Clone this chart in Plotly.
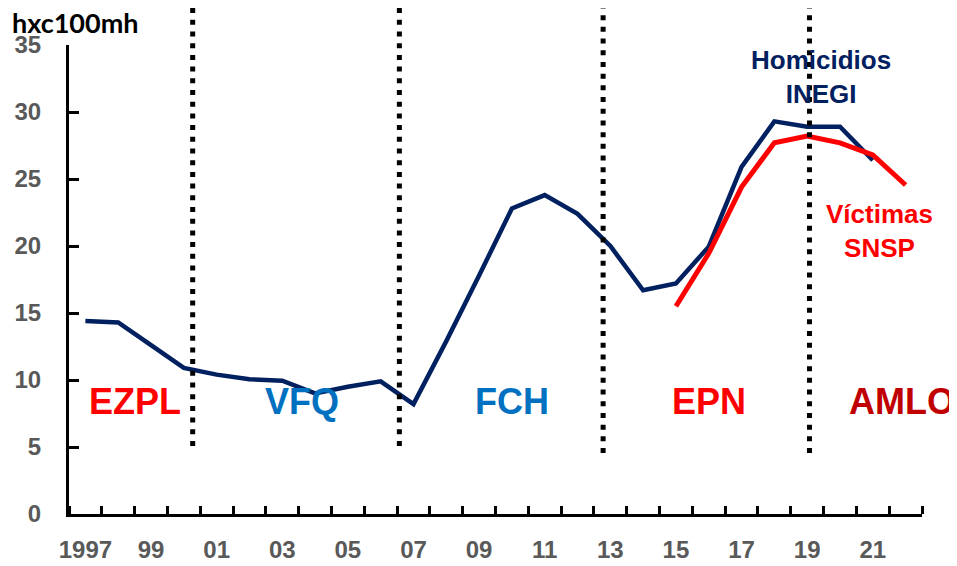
"""Homicide rate in Mexico by presidential term, INEGI vs SNSP."""

import plotly.graph_objects as go

# Homicides per 100k inhabitants (INEGI), 1997-2021
years_inegi = list(range(1997, 2022))
homicidios_inegi = [14.4, 14.3, 12.6, 10.9, 10.4, 10.05, 9.95, 9.0, 9.5, 9.9,
                    8.2, 12.9, 17.8, 22.8, 23.8, 22.4, 20.0, 16.7, 17.2, 19.95,
                    25.9, 29.3, 28.9, 28.9, 26.4]

# Victims per 100k inhabitants (SNSP), 2015-2022
years_snsp = list(range(2015, 2023))
victimas_snsp = [15.5, 19.45, 24.4, 27.7, 28.2, 27.7, 26.8, 24.55]

# Presidential terms: label, centre year, colour
terms = ["EZPL", "VFQ", "FCH", "EPN", "AMLO"]
term_x = [1998.5, 2003.6, 2010.0, 2016.0, 2021.9]
term_colors = ["#FF0000", "#0070C0", "#0070C0", "#FF0000", "#C00000"]

# Changes of administration (dotted separators)
term_breaks = [2000.27, 2006.57, 2012.78, 2019.07]
break_bottom = [0.145, 0.145, 0.130, 0.130]

# Axis labels
tick_years = list(range(1997, 2022, 2))
tick_text = ["1997"] + [f"{y % 100:02d}" for y in tick_years[1:]]
y_ticks = list(range(0, 40, 5))

ARIAL = "Liberation Sans, Arial"
NAVY = "#002060"

fig = go.Figure()

fig.add_trace(go.Scatter(
    x=years_inegi,
    y=homicidios_inegi,
    mode='lines',
    name='Homicidios INEGI',
    line=dict(color=NAVY, width=4.5),
))

fig.add_trace(go.Scatter(
    x=years_snsp,
    y=victimas_snsp,
    mode='lines',
    name='Víctimas SNSP',
    line=dict(color='#FF0000', width=5),
))

# Dotted term separators, running above the plot area
for xb, yb in zip(term_breaks, break_bottom):
    fig.add_shape(
        type='line', xref='x', yref='paper',
        x0=xb, x1=xb, y0=yb, y1=1.096,
        line=dict(color='black', width=5, dash='5px,6.7px'),
    )

# Term labels
for name, xt, col in zip(terms, term_x, term_colors):
    fig.add_annotation(
        x=xt, y=8.4, text=f"<b>{name}</b>", showarrow=False,
        font=dict(family=ARIAL, size=36, color=col),
        xanchor='center', yanchor='middle',
    )

# Series labels
fig.add_annotation(
    x=2019.41, y=32.6, text="<b>Homicidios<br>INEGI</b>", showarrow=False,
    font=dict(family=ARIAL, size=26, color=NAVY),
    xanchor='center', yanchor='middle',
)
fig.add_annotation(
    x=2021.2, y=21.1, text="<b>Víctimas<br>SNSP</b>", showarrow=False,
    font=dict(family=ARIAL, size=26, color='#FF0000'),
    xanchor='center', yanchor='middle',
)

# Unit label
fig.add_annotation(
    x=-0.069, y=1.049, xref='paper', yref='paper',
    text="<b>hxc100mh</b>", showarrow=False,
    font=dict(family="Lato, Open Sans, sans-serif", size=27, color='black'),
    xanchor='left', yanchor='middle',
)

# page body adds an 8px offset, margins compensate for it
fig.update_layout(
    width=957,
    height=566,
    showlegend=False,
    plot_bgcolor='white',
    paper_bgcolor='white',
    margin=dict(l=61, r=43, t=37, b=60),
    xaxis=dict(
        range=[1996.5, 2022.5],
        tickmode='array',
        tickvals=tick_years,
        ticktext=tick_text,
        ticks='',
        showgrid=False,
        zeroline=False,
        showline=True,
        linecolor='black',
        linewidth=3,
        automargin=False,
        tickfont=dict(family=ARIAL, size=24, color='#595959', weight='bold'),
        ticklabelstandoff=12,
        minor=dict(ticks='inside', tick0=1996.5, dtick=1, ticklen=8,
                   tickwidth=3, tickcolor='black', showgrid=False),
    ),
    yaxis=dict(
        range=[0, 35],
        tickmode='array',
        tickvals=y_ticks,
        ticks='inside',
        ticklen=10,
        tickwidth=2.5,
        tickcolor='black',
        showgrid=False,
        zeroline=False,
        showline=True,
        linecolor='black',
        linewidth=3,
        automargin=False,
        tickfont=dict(family=ARIAL, size=24, color='#595959', weight='bold'),
        ticklabelstandoff=20,
    ),
)

fig.write_html("out.html")
